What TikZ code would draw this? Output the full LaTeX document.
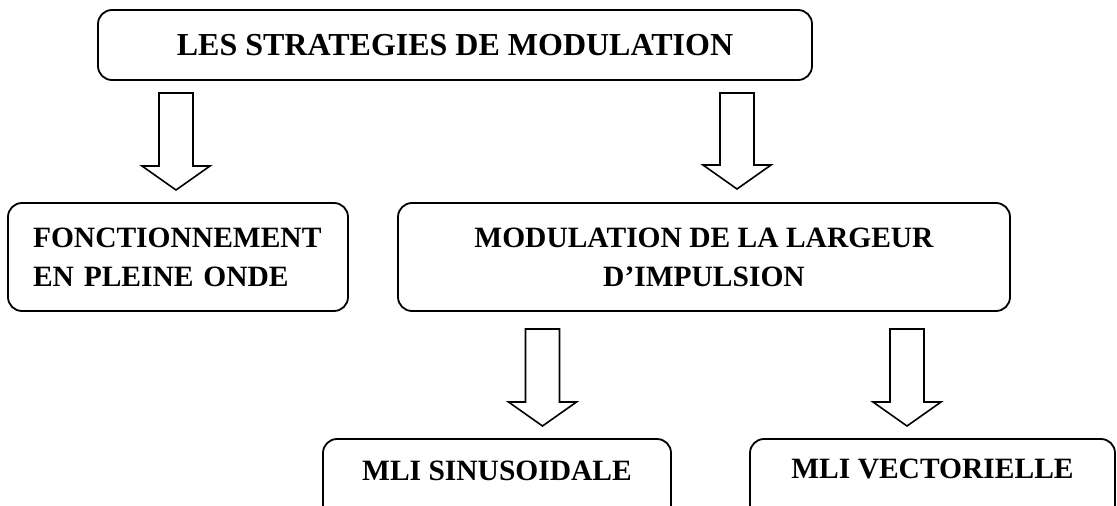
\documentclass[tikz,border=0pt]{standalone}
\usepackage{fontspec}
\setmainfont{Liberation Serif}
\usetikzlibrary{calc}
\tikzset{
  box/.style={draw=black, line width=1.8pt, rounded corners=14pt, rectangle, inner sep=0pt},
  bigtxt/.style={font=\bfseries\fontsize{32}{38}\selectfont},
  txt/.style={font=\bfseries\fontsize{29.5}{39}\selectfont},
  barrow/.style={draw=black, line width=1.6pt, line join=miter}
}
\newcommand{\blockarrow}[2]{%
  \draw[barrow] let \p1=(#1), \p2=(#2) in
    (\x1-17pt,\y1) -- (\x1+17pt,\y1) -- (\x1+17pt,\y2+24pt) -- (\x1+34pt,\y2+24pt)
    -- (\x2,\y2) -- (\x1-34pt,\y2+24pt) -- (\x1-17pt,\y2+24pt) -- cycle;}
\begin{document}
\begin{tikzpicture}[x=1pt,y=-1pt]
\useasboundingbox (0,0) rectangle (1117,506);
\clip (0,0) rectangle (1117,506);
% top box
\node[box, bigtxt, minimum width=714pt, minimum height=70pt] (t) at (455,45) {LES STRATEGIES DE MODULATION};
% second row
\node[box, txt, minimum width=340pt, minimum height=108pt, text width=290pt, align=left, inner xsep=25pt] (l) at (178,257) {FONCTIONNEMENT\\EN PLEINE ONDE};
\node[box, txt, minimum width=612pt, minimum height=108pt, align=center] (m) at (704,257) {MODULATION DE LA LARGEUR\\D'IMPULSION};
% bottom row (boxes run past the lower edge)
\node[box, minimum width=348pt, minimum height=100pt] (s) at (497,489) {};
\node[txt, anchor=base] (st) at (497,480) {MLI SINUSOIDALE};
\node[box, minimum width=365pt, minimum height=100pt] (v) at (932.5,489) {};
\node[txt, anchor=base] (vt) at (932.5,478) {MLI VECTORIELLE};
% arrows
\coordinate (a1s) at (176,93);  \coordinate (a1e) at (176,190);
\coordinate (a2s) at (737,93);  \coordinate (a2e) at (737,189);
\coordinate (a3s) at (542.5,329); \coordinate (a3e) at (542.5,426);
\coordinate (a4s) at (907,329); \coordinate (a4e) at (907,426);
\blockarrow{a1s}{a1e}
\blockarrow{a2s}{a2e}
\blockarrow{a3s}{a3e}
\blockarrow{a4s}{a4e}
\end{tikzpicture}
\end{document}
